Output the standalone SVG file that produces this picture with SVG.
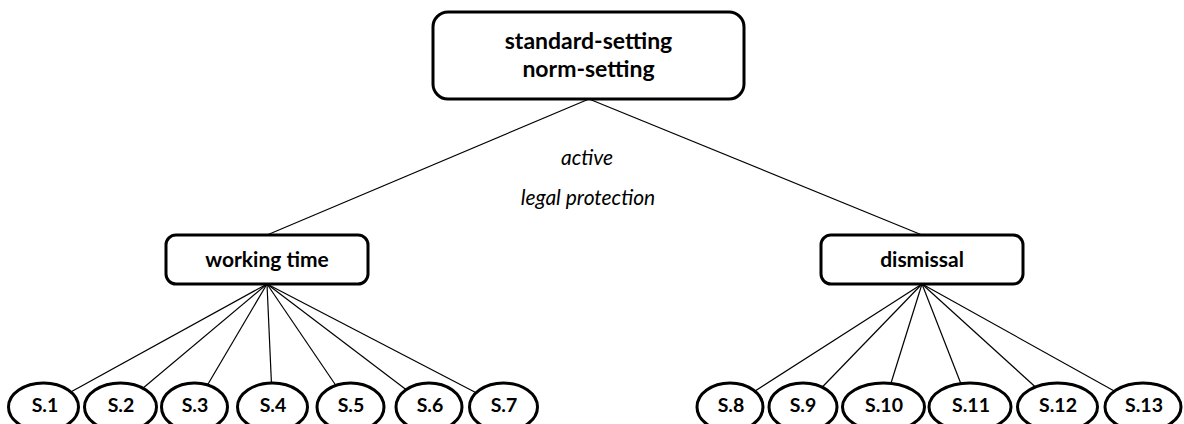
<svg xmlns="http://www.w3.org/2000/svg" width="1184" height="424" viewBox="0 0 1184 424">
<style>
.box{fill:#fff;stroke:#000;stroke-width:3}
.ell{fill:#fff;stroke:#000;stroke-width:3}
.ln{stroke:#000;stroke-width:1.2;fill:none}
.t{font-family:Lato,"Open Sans","Liberation Sans",sans-serif;font-weight:bold;text-anchor:middle;fill:#000}
.tb{font-size:23px}
.tm{font-size:21px}
.ts{font-size:19.5px}
.lab{font-family:Lato,"Open Sans","Liberation Sans",sans-serif;font-style:italic;font-size:21px;text-anchor:middle;fill:#000}
</style>
<rect width="1184" height="424" fill="#fff"/>
<g id="connectors">
<line class="ln" x1="589" y1="99" x2="267" y2="235"/>
<line class="ln" x1="589" y1="99" x2="922" y2="235"/>
<line class="ln" x1="267" y1="284" x2="43.5" y2="407"/>
<line class="ln" x1="267" y1="284" x2="120.5" y2="407"/>
<line class="ln" x1="267" y1="284" x2="194.5" y2="407"/>
<line class="ln" x1="267" y1="284" x2="272.5" y2="407"/>
<line class="ln" x1="267" y1="284" x2="350.5" y2="407"/>
<line class="ln" x1="267" y1="284" x2="429" y2="407"/>
<line class="ln" x1="267" y1="284" x2="503.5" y2="407"/>
<line class="ln" x1="922" y1="284" x2="730" y2="407"/>
<line class="ln" x1="922" y1="284" x2="803" y2="407"/>
<line class="ln" x1="922" y1="284" x2="883.5" y2="407"/>
<line class="ln" x1="922" y1="284" x2="970" y2="407"/>
<line class="ln" x1="922" y1="284" x2="1057.5" y2="407"/>
<line class="ln" x1="922" y1="284" x2="1143" y2="407"/>
<text class="lab" x="587" y="165">active</text>
<text class="lab" x="588" y="205">legal protection</text>
</g>
<g id="root">
<rect class="box" x="433" y="12" width="311" height="87" rx="15"/>
<text class="t tb" x="588.5" y="49">standard-setting</text>
<text class="t tb" x="588.5" y="77">norm-setting</text>
</g>
<g id="working-time">
<rect class="box" x="166" y="235" width="202" height="49" rx="10"/>
<text class="t tm" x="267" y="267">working time</text>
</g>
<g id="dismissal">
<rect class="box" x="821" y="235" width="202" height="49" rx="10"/>
<text class="t tm" x="922" y="267">dismissal</text>
</g>
<g id="s1"><ellipse class="ell" cx="43.5" cy="407" rx="35" ry="24"/><text class="t ts" x="45" y="412">S.1</text></g>
<g id="s2"><ellipse class="ell" cx="120.5" cy="407" rx="36" ry="24"/><text class="t ts" x="121" y="412">S.2</text></g>
<g id="s3"><ellipse class="ell" cx="194.5" cy="407" rx="33" ry="24"/><text class="t ts" x="195" y="412">S.3</text></g>
<g id="s4"><ellipse class="ell" cx="272.5" cy="407" rx="35" ry="24"/><text class="t ts" x="273" y="412">S.4</text></g>
<g id="s5"><ellipse class="ell" cx="350.5" cy="407" rx="33.5" ry="24"/><text class="t ts" x="351" y="412">S.5</text></g>
<g id="s6"><ellipse class="ell" cx="429" cy="407" rx="33" ry="24"/><text class="t ts" x="430" y="412">S.6</text></g>
<g id="s7"><ellipse class="ell" cx="503.5" cy="407" rx="34" ry="24"/><text class="t ts" x="504" y="412">S.7</text></g>
<g id="s8"><ellipse class="ell" cx="730" cy="407" rx="33" ry="24"/><text class="t ts" x="731" y="412">S.8</text></g>
<g id="s9"><ellipse class="ell" cx="803" cy="407" rx="34" ry="24"/><text class="t ts" x="803" y="412">S.9</text></g>
<g id="s10"><ellipse class="ell" cx="883.5" cy="407" rx="41" ry="24"/><text class="t ts" x="884" y="412">S.10</text></g>
<g id="s11"><ellipse class="ell" cx="970" cy="407" rx="41" ry="24"/><text class="t ts" x="971" y="412">S.11</text></g>
<g id="s12"><ellipse class="ell" cx="1057.5" cy="407" rx="40" ry="24"/><text class="t ts" x="1058" y="412">S.12</text></g>
<g id="s13"><ellipse class="ell" cx="1143" cy="407" rx="38" ry="24"/><text class="t ts" x="1144" y="412">S.13</text></g>
</svg>
